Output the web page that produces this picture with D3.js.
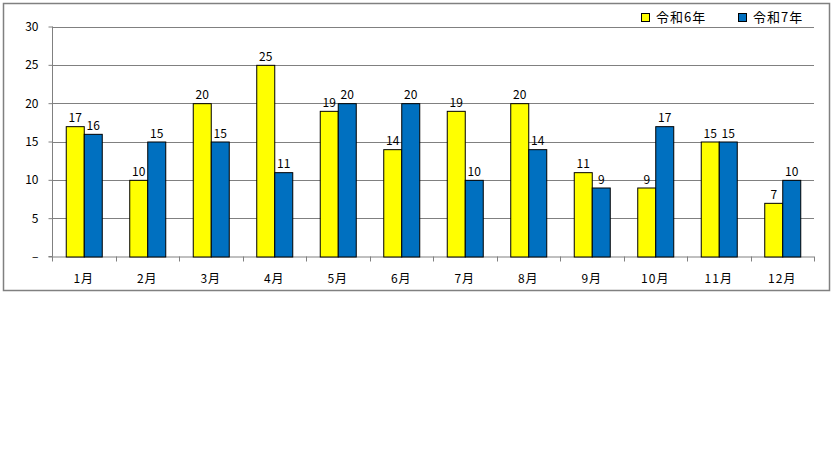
<!DOCTYPE html>
<html><head><meta charset="utf-8">
<script src="https://cdn.jsdelivr.net/npm/d3@7"></script>
<style>body{margin:0;background:#fff;}svg{display:block;}</style>
</head><body>
<script>
const categories = ["1月","2月","3月","4月","5月","6月","7月","8月","9月","10月","11月","12月"];
const seriesNames = ["令和6年","令和7年"];
const r6 = [17,10,20,25,19,14,19,20,11,9,15,7];
const r7 = [16,15,15,11,20,20,10,14,9,17,15,10];
const yTicks = [0,5,10,15,20,25,30];
const colors = ["#FFFF00","#0070C0"];

const W = 833, H = 460;
const svg = d3.select("body").append("svg").attr("width", W).attr("height", H);
const font = "'MS PGothic','Noto Sans CJK JP','DejaVu Sans',sans-serif";

svg.append("rect").attr("x",3.5).attr("y",3.5).attr("width",826).attr("height",287)
  .attr("fill","#fff").attr("stroke","#808080").attr("stroke-width",1.5);

const L = 52, R = 814, T = 26.5, B = 256.5;
const x = d3.scaleBand().domain(categories).range([L, R]).paddingInner(0.433).paddingOuter(0.2165);
const y = d3.scaleLinear().domain([0,30]).range([B, T]);

// gridlines
svg.append("g").selectAll("line").data(yTicks.filter(d=>d>0)).join("line")
  .attr("x1",L).attr("x2",R).attr("y1",d=>Math.round(y(d))+0.5).attr("y2",d=>Math.round(y(d))+0.5)
  .attr("stroke","#808080").attr("stroke-width",1);

// y axis
const yAxis = svg.append("g").attr("transform",`translate(${L+0.5},0)`)
  .call(d3.axisLeft(y).tickValues(yTicks).tickSize(4).tickFormat(d=>d===0?"–":d));
yAxis.select(".domain").attr("stroke","#808080").attr("d",`M-4,${B}H0V${T}`);
yAxis.selectAll(".tick line").attr("stroke","#808080");
yAxis.selectAll(".tick text").attr("x",-14).attr("font-family",font).attr("font-size",12).attr("fill","#000");

// x axis
const step = (R-L)/categories.length;
const xg = svg.append("g");
xg.append("line").attr("x1",L).attr("x2",R).attr("y1",B+0.5).attr("y2",B+0.5).attr("stroke","#808080");
xg.selectAll("line.t").data(d3.range(categories.length+1)).join("line").attr("class","t")
  .attr("x1",i=>Math.round(L+i*step)+0.5).attr("x2",i=>Math.round(L+i*step)+0.5)
  .attr("y1",B).attr("y2",B+5).attr("stroke","#808080");
xg.selectAll("text").data(categories).join("text")
  .attr("x",d=>x(d)+x.bandwidth()/2).attr("y",B+26)
  .attr("text-anchor","middle").attr("font-family",font).attr("font-size",12).attr("letter-spacing",1).attr("fill","#000")
  .text(d=>d);

const sub = d3.scaleBand().domain([0,1]).range([0, x.bandwidth()]);
const data = [];
categories.forEach((c,i)=>{ data.push({c, s:0, v:r6[i]}); data.push({c, s:1, v:r7[i]}); });

svg.append("g").selectAll("rect").data(data).join("rect")
  .attr("x",d=>x(d.c)+sub(d.s)+0.5).attr("y",d=>y(d.v)+0.5)
  .attr("width",sub.bandwidth()).attr("height",d=>B-y(d.v))
  .attr("fill",d=>colors[d.s]).attr("stroke","#000").attr("stroke-width",1);

svg.append("g").selectAll("text").data(data).join("text")
  .attr("x",d=>x(d.c)+sub(d.s)+sub.bandwidth()/2+0.5).attr("y",d=>y(d.v)-4)
  .attr("text-anchor","middle").attr("font-family",font).attr("font-size",12).attr("fill","#000")
  .text(d=>d.v);

// legend
const lg = svg.append("g");
const lx = [641, 738];
seriesNames.forEach((n,i)=>{
  lg.append("rect").attr("x",lx[i]+0.5).attr("y",13.5).attr("width",8).attr("height",8)
    .attr("fill",colors[i]).attr("stroke","#000");
  lg.append("text").attr("x",lx[i]+15).attr("y",22).attr("font-family",font).attr("font-size",13)
    .attr("letter-spacing",1).attr("fill","#000").text(n);
});
</script>
</body></html>
